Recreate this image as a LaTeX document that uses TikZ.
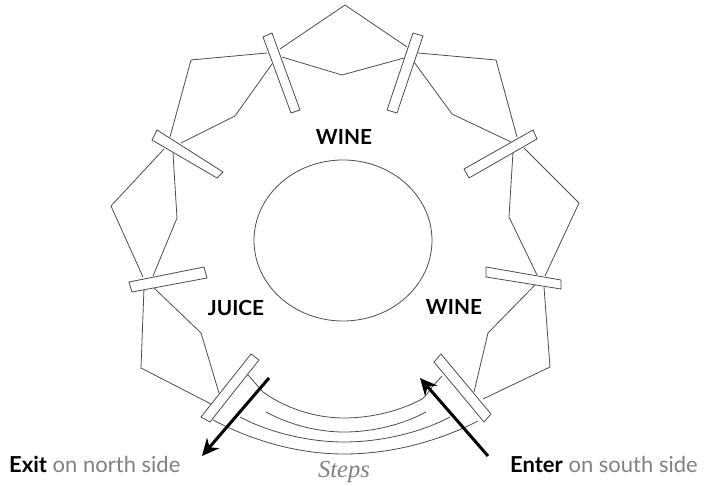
\documentclass[tikz,border=0pt]{standalone}
\usepackage{fontspec}
\setmainfont{Lato}
\newfontfamily\stepsfont{Liberation Serif}
\definecolor{wall}{gray}{0.3}
\definecolor{softtext}{gray}{0.5}
\usetikzlibrary{arrows.meta}
\tikzset{
  x=1pt,y=-1pt,
  wall/.style={draw=wall,line width=0.8pt,line join=miter},
  gate/.style={wall,fill=white},
  lab/.style={font=\fontsize{20.8}{24}\selectfont\bfseries,text=black,inner sep=0pt},
  note/.style={font=\fontsize{22}{26}\selectfont,text=softtext,inner sep=0pt,anchor=base west},
  walkway/.style={draw=black,line width=3pt,-{Stealth[length=17pt,width=16pt]}},
}
\begin{document}
\begin{tikzpicture}
\useasboundingbox (0,0) rectangle (705,486);
% outer wall
\draw[wall] (280,49) -- (345,5) -- (407,47);
\draw[wall] (418,53) -- (496,60) -- (517,137);
\draw[wall] (524,148) -- (579,203) -- (545,276);
\draw[wall] (544,287) -- (550,367) -- (483,399);
\draw[wall] (267,53) -- (191,60) -- (170,137);
\draw[wall] (164,149) -- (111,206) -- (143,277);
\draw[wall] (144,288) -- (141,368) -- (211,404);
% inner wall
\draw[wall] (282,57) -- (342,75) -- (404,58);
\draw[wall] (414,62) -- (452,114) -- (511,142);
\draw[wall] (513,152) -- (509,217) -- (537,275);
\draw[wall] (535,285) -- (488,333) -- (474,392);
\draw[wall] (272,64) -- (235,116) -- (181,143);
\draw[wall] (173,153) -- (177,218) -- (153,276);
\draw[wall] (154,288) -- (201,333) -- (219,393);
% centre
\draw[wall] (343,240.5) ellipse [x radius=89,y radius=80.5];
% steps
\draw[wall] (248,375) -- (263,392) .. controls (285,408) and (315,418) .. (344,418) .. controls (373,418) and (402,410) .. (422,399) .. controls (426,396) and (429,391) .. (432,387) -- (442,376);
\draw[wall] (266,412) .. controls (290,425) and (318,432) .. (344,432) .. controls (372,432) and (402,425) .. (426,412);
\draw[wall] (240,417) .. controls (270,433) and (310,442) .. (344,442) .. controls (380,442) and (420,433) .. (450,417);
\draw[wall] (213,420) .. controls (255,442) and (300,454) .. (344,454) .. controls (390,454) and (437,442) .. (478,421);
% gates
\draw[gate] (263,37) -- (272,33) -- (300,110) -- (291,113) -- cycle;
\draw[gate] (413,33) -- (423,36) -- (397,113) -- (387,110) -- cycle;
\draw[gate] (157,130) -- (152,140) -- (217,178) -- (223,172) -- cycle;
\draw[gate] (533,130) -- (537,139) -- (469,178) -- (464,169) -- cycle;
\draw[gate] (129,282) -- (204,267) -- (207,278) -- (132,292) -- cycle;
\draw[gate] (486,267) -- (486,277) -- (561,289) -- (561,280) -- cycle;
\draw[gate] (251,354) -- (259,360) -- (210,422) -- (201,417) -- cycle;
\draw[gate] (441,354) -- (434,362) -- (484,422) -- (491,414) -- cycle;
% arrows
\coordinate (exitfrom) at (269,378);
\coordinate (exitto) at (202,456);
\coordinate (enterfrom) at (488,456);
\coordinate (enterto) at (420,378);
\draw[walkway] (exitfrom) -- (exitto);
\draw[walkway] (enterfrom) -- (enterto);
% labels
\node[lab] (wineTop) at (344,137) {WINE};
\node[lab] (juice) at (236,308) {JUICE};
\node[lab] (wineRight) at (454,307) {WINE};
\node[note] (exitnote) at (9,473) {\textcolor{black}{\textbf{Exit}} on north side};
\node[note] (enternote) at (510,473) {\textcolor{black}{\textbf{Enter}} on south side};
\node[note,anchor=base,font=\fontsize{24.5}{28}\selectfont] (steps) at (344,478) {\stepsfont\itshape Steps};
\end{tikzpicture}
\end{document}
